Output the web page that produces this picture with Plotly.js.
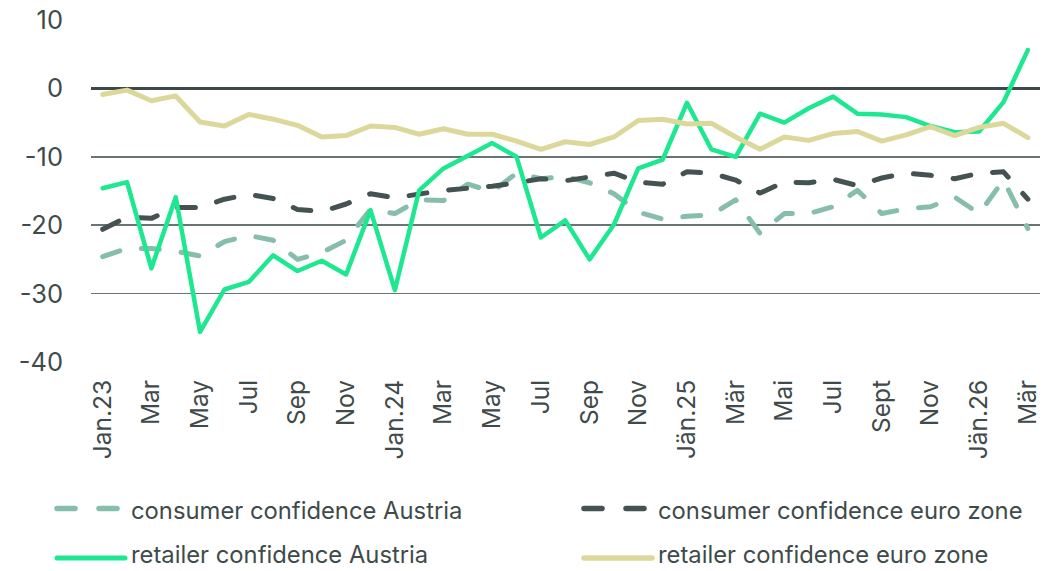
<!DOCTYPE html>
<html>
<head>
<meta charset="utf-8">
<script src="https://cdn.plot.ly/plotly-3.0.1.min.js"></script>
<style>
html,body{margin:0;padding:0;background:#fff;}
#chart{width:1053px;height:571px;}
.scatterlayer path.js-line, .shapelayer path{stroke-linecap:round;stroke-linejoin:round;}
</style>
</head>
<body>
<div id="chart"></div>
<script>
const months = ["2023-01","2023-02","2023-03","2023-04","2023-05","2023-06","2023-07","2023-08","2023-09","2023-10","2023-11","2023-12",
"2024-01","2024-02","2024-03","2024-04","2024-05","2024-06","2024-07","2024-08","2024-09","2024-10","2024-11","2024-12",
"2025-01","2025-02","2025-03","2025-04","2025-05","2025-06","2025-07","2025-08","2025-09","2025-10","2025-11","2025-12",
"2026-01","2026-02","2026-03"];
const tickMonths = ["2023-01","2023-03","2023-05","2023-07","2023-09","2023-11","2024-01","2024-03","2024-05","2024-07","2024-09","2024-11",
"2025-01","2025-03","2025-05","2025-07","2025-09","2025-11","2026-01","2026-03"];
const tickLabels = ["Jan.23","Mar","May","Jul","Sep","Nov","Jan.24","Mar","May","Jul","Sep","Nov","Jän.25","Mär","Mai","Jul","Sept","Nov","Jän.26","Mär"];
const yTickValues = [-40,-30,-20,-10,0,10];
const yTickLabels = ["-40","-30","-20","-10","0","10"];

const seriesNames = ["consumer confidence Austria","consumer confidence euro zone","retailer confidence Austria","retailer confidence euro zone"];

const consumerAustria = [-24.6,-23.4,-23.4,-23.8,-24.5,-22.4,-21.5,-22.2,-25.0,-24.0,-22.2,-17.7,-18.3,-16.3,-16.4,-14.0,-15.1,-12.4,-13.2,-12.9,-13.8,-15.4,-18.1,-19.1,-18.7,-18.5,-16.3,-21.2,-18.3,-18.3,-17.3,-14.9,-18.3,-17.6,-17.3,-15.9,-18.3,-13.4,-20.5];
const consumerEuro = [-20.6,-18.8,-19.0,-17.4,-17.4,-16.2,-15.5,-16.1,-17.7,-18.0,-16.9,-15.4,-16.0,-15.4,-14.9,-14.6,-14.3,-13.8,-13.2,-13.5,-12.9,-12.4,-13.7,-14.0,-12.2,-12.4,-13.4,-15.3,-13.7,-13.8,-13.3,-14.2,-13.1,-12.4,-12.7,-13.2,-12.4,-12.2,-16.2];
const retailerAustria = [-14.6,-13.7,-26.3,-15.9,-35.6,-29.4,-28.3,-24.4,-26.7,-25.2,-27.2,-17.8,-29.5,-14.9,-11.7,-9.8,-8.0,-10.0,-21.8,-19.3,-25.0,-19.9,-11.7,-10.4,-2.1,-8.9,-10.0,-3.7,-5.0,-2.9,-1.2,-3.7,-3.8,-4.2,-5.5,-6.4,-6.3,-2.0,5.6];
const retailerEuro = [-0.9,-0.25,-1.8,-1.1,-4.9,-5.5,-3.8,-4.5,-5.4,-7.1,-6.9,-5.5,-5.7,-6.7,-5.9,-6.7,-6.7,-7.7,-8.9,-7.8,-8.2,-7.1,-4.7,-4.5,-5.2,-5.1,-7.1,-8.9,-7.1,-7.6,-6.6,-6.3,-7.7,-6.8,-5.6,-6.9,-5.7,-5.1,-7.2];

const colors = ["#86bdab","#445252","#1de890","#dcd89c"];
const dashes = ["18px,22px","18px,22px","solid","solid"];
const widths = [5,5,4.5,5];
const values = [consumerAustria, consumerEuro, retailerAustria, retailerEuro];

const traces = values.map((v,i)=>({
  type:"scatter", mode:"lines", x:months, y:v, name:seriesNames[i],
  line:{color:colors[i], width:widths[i], dash:dashes[i]}, showlegend:false, hoverinfo:"x+y"
}));

const W=1053, H=571, L=91, R=1040, T=20, B=361.7;
const px = p => (p-L)/(R-L);
const py = p => (B-p)/(B-T);
const legendPos = [
  {x0:57, x1:122, y:508, tx:130, ty:510},
  {x0:584, x1:648, y:508, tx:657, ty:510},
  {x0:57, x1:125, y:557.5, tx:130, ty:554},
  {x0:584, x1:652, y:557.5, tx:657, ty:554}
];
const shapes = [], annotations = [];
legendPos.forEach((p,i)=>{
  shapes.push({type:"line", xref:"paper", yref:"paper", x0:px(p.x0), x1:px(p.x1), y0:py(p.y), y1:py(p.y),
    line:{color:colors[i], width:widths[i]+0.5, dash: i<2 ? "18px,24px" : "solid"}});
  annotations.push({xref:"paper", yref:"paper", x:px(p.tx), y:py(p.ty), xanchor:"left", yanchor:"middle",
    borderpad:0, text:seriesNames[i], showarrow:false,
    font:{family:"Inter, Roboto, sans-serif", size:23.8, color:"#3f4b4b"}});
});

const layout = {
  width:W, height:H,
  margin:{l:L, r:W-R, t:T, b:H-B},
  paper_bgcolor:"#fff", plot_bgcolor:"#fff",
  font:{family:"Inter, Roboto, sans-serif", size:24, color:"#3f4b4b"},
  showlegend:false,
  xaxis:{type:"category", categoryorder:"array", categoryarray:months, range:[-0.48,38.5],
    tickmode:"array", tickvals:tickMonths, ticktext:tickLabels, tickangle:-90,
    showgrid:false, zeroline:false, showline:false, ticks:"", ticklabelstandoff:12,
    tickfont:{size:24.5, color:"#3f4b4b"}},
  yaxis:{range:[-40,10], tickmode:"array", tickvals:yTickValues, ticktext:yTickLabels,
    showgrid:true, gridcolor:"#697474", gridwidth:1.5,
    zeroline:true, zerolinecolor:"#3d4848", zerolinewidth:3, showline:false, ticks:"",
    ticklabelstandoff:27, tickfont:{size:25.5, color:"#3f4b4b"}},
  shapes:shapes, annotations:annotations
};
Plotly.newPlot("chart", traces, layout, {staticPlot:true, displayModeBar:false});
</script>
</body>
</html>
